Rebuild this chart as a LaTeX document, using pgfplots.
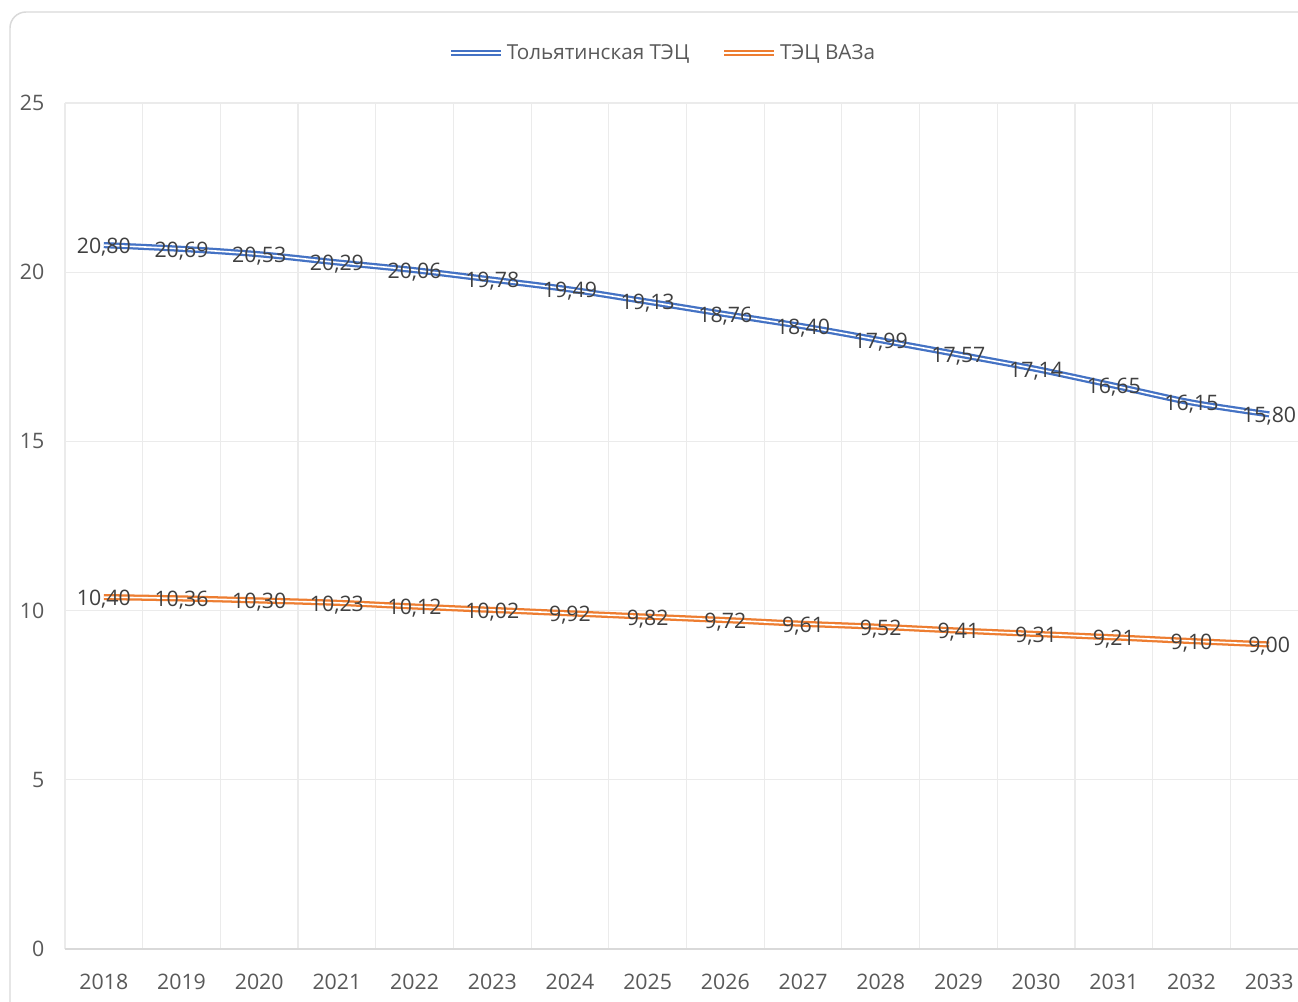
\documentclass[border=0pt]{standalone}
\usepackage{pgfplots}
\pgfplotsset{compat=1.18}
\usepackage{fontspec}
\setmainfont{Open Sans}
\definecolor{cblue}{HTML}{4472C4}
\definecolor{corange}{HTML}{ED7D31}
\definecolor{tickc}{HTML}{595959}
\definecolor{labc}{HTML}{404040}
\definecolor{gridc}{HTML}{EBEBEB}
\definecolor{axc}{HTML}{D9D9D9}
\pgfplotstableread{
x tol vaz
0 20.80 10.40
1 20.69 10.36
2 20.53 10.30
3 20.29 10.23
4 20.06 10.12
5 19.78 10.02
6 19.49 9.92
7 19.13 9.82
8 18.76 9.72
9 18.40 9.61
10 17.99 9.52
11 17.57 9.41
12 17.14 9.31
13 16.65 9.21
14 16.15 9.10
15 15.80 9.00
}\datatable
\begin{document}
\begin{tikzpicture}
\path[use as bounding box, clip] (0,0) rectangle (973.5pt,750.75pt);
\fill[white] (0,0) rectangle (973.5pt,750.75pt);
\draw[axc, line width=1.1pt, rounded corners=12pt] (7.5pt,741.75pt) rectangle (1000pt,-20pt);
\begin{axis}[
  at={(48.75pt,39pt)}, anchor=south west,
  scale only axis, width=932.25pt, height=634.5pt,
  xmin=-0.5, xmax=15.5, ymin=0, ymax=25,
  clip=false,
  axis line style={draw=none},
  xtick={0,1,2,3,4,5,6,7,8,9,10,11,12,13,14,15},
  xticklabels={2018,2019,2020,2021,2022,2023,2024,2025,2026,2027,2028,2029,2030,2031,2032,2033},
  minor xtick={-0.5,0.5,1.5,2.5,3.5,4.5,5.5,6.5,7.5,8.5,9.5,10.5,11.5,12.5,13.5,14.5,15.5},
  ytick={0,5,10,15,20,25},
  xminorgrids=true, ymajorgrids=true,
  grid style={gridc, line width=0.9pt},
  minor grid style={gridc, line width=0.9pt},
  major tick length=0pt, minor tick length=0pt,
  tick label style={font=\fontsize{16}{19}\selectfont, text=tickc},
  /pgf/number format/assume math mode=true,
  yticklabel style={xshift=-12pt},
  xticklabel style={yshift=-15pt},
  legend columns=2,
  legend style={draw=none, fill=none, at={(0.481,1.059)}, anchor=center,
    font=\fontsize{15.5}{18}\selectfont, text=tickc,
    /tikz/every even column/.append style={column sep=22pt}},
  legend image code/.code={\draw[#1] (0pt,0pt) -- (37.5pt,0pt);},
  nodes near coords={\pgfmathprintnumber[fixed,fixed zerofill,precision=2,use comma,assume math mode=true]{\pgfplotspointmeta}},
  nodes near coords align=center,
  every node near coord/.append style={anchor=center, yshift=-1.5pt, text=labc, font=\fontsize{16}{19}\selectfont, inner sep=0pt},
]
\draw[axc, line width=1.1pt] (axis cs:-0.5,0) -- (axis cs:15.5,0);
\addplot[cblue, line width=1.7pt, double=white, double distance=1.2pt, smooth, no markers] table[x=x, y=tol] {\datatable};
\addlegendentry{Тольятинская ТЭЦ}
\addplot[corange, line width=1.7pt, double=white, double distance=1.2pt, smooth, no markers] table[x=x, y=vaz] {\datatable};
\addlegendentry{ТЭЦ ВАЗа}
\end{axis}
\end{tikzpicture}
\end{document}
